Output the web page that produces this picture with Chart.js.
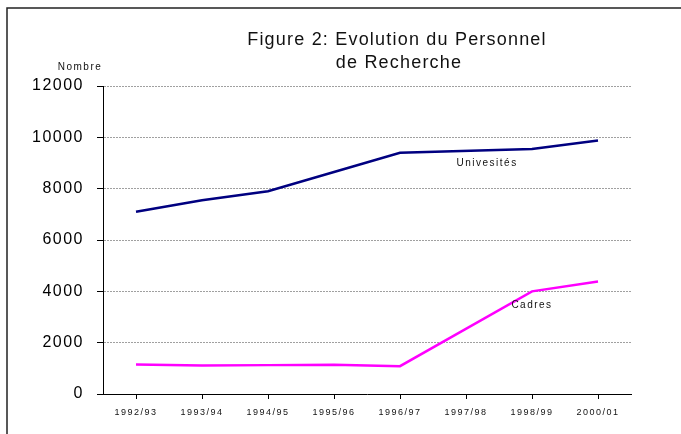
<!DOCTYPE html>
<html>
<head>
<meta charset="utf-8">
<script src="https://cdn.jsdelivr.net/npm/chart.js@4.4.1/dist/chart.umd.min.js"></script>
<style>
  html, body { margin: 0; padding: 0; background: #fff; }
  #wrap { width: 681px; height: 434px; position: relative; }
</style>
</head>
<body>
<div id="wrap"><canvas id="c" width="681" height="434"></canvas></div>
<script>
const categories = ["1992/93", "1993/94", "1994/95", "1995/96", "1996/97", "1997/98", "1998/99", "2000/01"];
const universites = [7100, 7550, 7900, 8650, 9400, null, 9550, 9880];
const cadres = [1150, 1110, 1125, 1140, 1085, null, 4000, 4380];
const yTicks = [0, 2000, 4000, 6000, 8000, 10000, 12000];
const titleLines = ["Figure 2: Evolution du Personnel", "de Recherche"];
const yTitle = "Nombre";
const seriesLabels = [
  { text: "Univesités", idx: 5.32, value: 9000 },
  { text: "Cadres", idx: 6.0, value: 3450 }
];

const FONT = "'Liberation Sans', Arial, sans-serif";

const decorPlugin = {
  id: 'decor',
  beforeDraw(chart) {
    const ctx = chart.ctx;
    ctx.letterSpacing = '1.5px';
    ctx.save();
    ctx.strokeStyle = '#222';
    ctx.lineWidth = 1.5;
    ctx.beginPath();
    ctx.moveTo(7, 434);
    ctx.lineTo(7, 8);
    ctx.lineTo(681, 8);
    ctx.stroke();
    ctx.restore();
  },
  afterDraw(chart) {
    const ctx = chart.ctx;
    const xs = chart.scales.x, ys = chart.scales.y;
    ctx.save();
    ctx.fillStyle = '#111';
    ctx.textAlign = 'center';
    ctx.textBaseline = 'middle';
    ctx.letterSpacing = '1.2px';
    ctx.font = '18px ' + FONT;
    ctx.fillText(titleLines[0], 397, 40);
    ctx.fillText(titleLines[1], 399, 63);
    ctx.letterSpacing = '1.5px';
    ctx.font = '10px ' + FONT;
    ctx.fillText(yTitle, 80, 67);
    seriesLabels.forEach(l => {
      ctx.fillText(l.text, xs.getPixelForValue(l.idx), ys.getPixelForValue(l.value));
    });
    ctx.restore();
  }
};

new Chart(document.getElementById('c'), {
  type: 'line',
  data: {
    labels: categories,
    datasets: [
      { label: 'Univesités', data: universites, borderColor: '#000080', borderWidth: 2.5,
        pointRadius: 0, tension: 0, spanGaps: true, fill: false },
      { label: 'Cadres', data: cadres, borderColor: '#ff00ff', borderWidth: 2.5,
        pointRadius: 0, tension: 0, spanGaps: true, fill: false }
    ]
  },
  options: {
    responsive: false,
    animation: false,
    events: [],
    layout: { padding: { left: 0, top: 86, right: 50, bottom: 0 } },
    plugins: { legend: { display: false }, tooltip: { enabled: false }, title: { display: false } },
    scales: {
      x: {
        offset: true,
        afterFit(s) { s.height = 40; },
        grid: { drawOnChartArea: false, drawTicks: true, tickLength: 5, color: '#000', tickColor: '#000' },
        border: { display: true, color: '#000', width: 1 },
        ticks: { color: '#111', font: { family: FONT, size: 9 }, padding: 8, maxRotation: 0, autoSkip: false }
      },
      y: {
        min: 0, max: 12000,
        afterFit(s) { s.width = 103; },
        afterBuildTicks(s) { s.ticks = yTicks.map(v => ({ value: v })); },
        grid: {
          drawOnChartArea: true, drawTicks: true, tickLength: 6,
          color: ctx => (ctx.tick && ctx.tick.value === 0) ? 'rgba(0,0,0,0)' : '#a0a0a0',
          tickColor: '#000', lineWidth: 1
        },
        border: { display: true, color: '#000', width: 1, dash: [2, 1] },
        ticks: { color: '#000', font: { family: FONT, size: 16 }, padding: 13, callback: v => String(v) }
      }
    }
  },
  plugins: [decorPlugin]
});
</script>
</body>
</html>
